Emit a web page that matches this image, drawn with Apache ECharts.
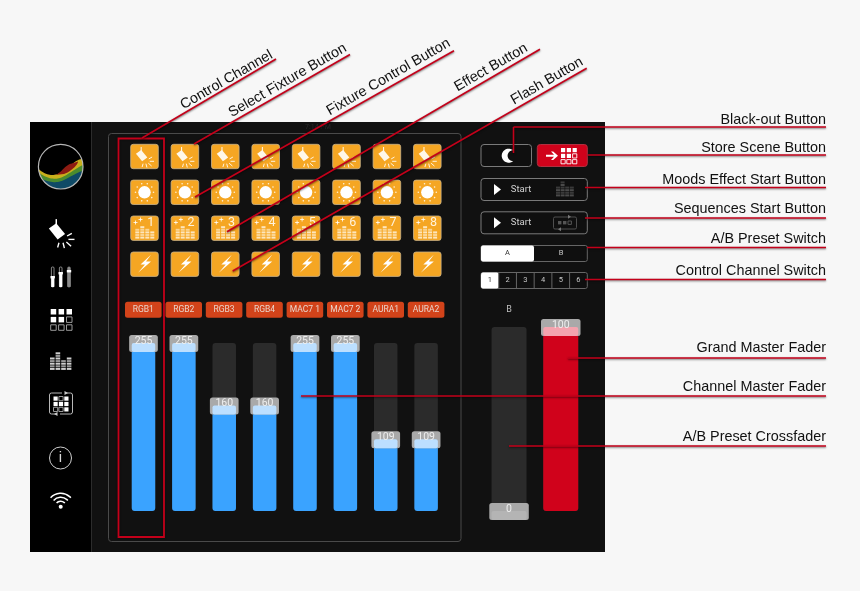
<!DOCTYPE html>
<html>
<head>
<meta charset="utf-8">
<title>Lighting console</title>
<style>
  html, body { margin: 0; padding: 0; background: #f7f7f7; }
  #main { width: 860px; height: 591px; }
</style>
<script src="https://cdn.jsdelivr.net/npm/echarts@6/dist/echarts.min.js"></script>
</head>
<body>
<div id="main"></div>
<script>
// fader data
var channels = ['A1', 'A2', 'A3', 'A4', 'A5', 'A6', 'A7', 'A8'];
var channelValues = [255, 255, 160, 160, 255, 255, 109, 109];
var channelNames = ['RGB1', 'RGB2', 'RGB3', 'RGB4', 'MAC7 1', 'MAC7 2', 'AURA1', 'AURA2'];
var masterCategories = ['A', 'Master'];
var masterValues = [0, 100];
// text of the callouts
var slantedLabels = ['Control Channel', 'Select Fixture Button', 'Fixture Control Button', 'Effect Button', 'Flash Button'];
var sideLabels = ['Black-out Button', 'Store Scene Button', 'Moods Effect Start Button', 'Sequences Start Button',
  'A/B Preset Switch', 'Control Channel Switch', 'Grand Master Fader', 'Channel Master Fader', 'A/B Preset Crossfader'];
var startLabel = 'Start';
var presetLabels = ['A', 'B'];
var switchLabels = ['1', '2', '3', '4', '5', '6'];

var RED = '#c4001a';
var FONT = '"Liberation Sans", Arial, sans-serif';
var UI_FONT = 'Roboto, "Liberation Sans", sans-serif';
var g = [];

function rect(x, y, w, h, fill, stroke, r, z, lw) {
  g.push({ type: 'rect', z: z || 1, silent: true, shape: { x: x, y: y, width: w, height: h, r: r || 0 },
    style: { fill: fill || 'none', stroke: stroke || 'none', lineWidth: lw || 1 } });
}
function line(x1, y1, x2, y2, color, lw, z) {
  g.push({ type: 'line', z: z || 3, silent: true, shape: { x1: x1, y1: y1, x2: x2, y2: y2 },
    style: { stroke: color, lineWidth: lw || 1 } });
}
function poly(points, fill, z) {
  g.push({ type: 'polygon', z: z || 3, silent: true, shape: { points: points }, style: { fill: fill } });
}
function circle(cx, cy, r, fill, stroke, lw, z) {
  g.push({ type: 'circle', z: z || 3, silent: true, shape: { cx: cx, cy: cy, r: r },
    style: { fill: fill || 'none', stroke: stroke || 'none', lineWidth: lw || 1 } });
}
function text(str, x, y, size, color, font, rot, z, align) {
  g.push({ type: 'text', z: z || 4, silent: true, x: x, y: y, rotation: rot || 0,
    style: { text: str, x: 0, y: 0, fill: color, font: size + 'px ' + (font || UI_FONT), align: align || 'center', verticalAlign: 'middle' } });
}

// graphic has no svg path type, so curves are sampled into polygons
function bez(p0, p1, p2, p3) {
  var out = [];
  for (var i = 0; i <= 16; i++) {
    var t = i / 16, u = 1 - t;
    out.push([
      u * u * u * p0[0] + 3 * u * u * t * p1[0] + 3 * u * t * t * p2[0] + t * t * t * p3[0],
      u * u * u * p0[1] + 3 * u * u * t * p1[1] + 3 * u * t * t * p2[1] + t * t * t * p3[1]
    ]);
  }
  return out;
}
function arcPts(cx, cy, r, a0, a1) {
  var out = [];
  for (var i = 0; i <= 40; i++) {
    var a = (a0 + (a1 - a0) * i / 40) * Math.PI / 180;
    out.push([cx + Math.cos(a) * r, cy + Math.sin(a) * r]);
  }
  return out;
}

// red callout line with its small shadow
function callLine(x1, y1, x2, y2) {
  g.push({ type: 'line', z: 20, silent: true, shape: { x1: x1, y1: y1, x2: x2, y2: y2 },
    style: { stroke: RED, lineWidth: 1.6, shadowBlur: 2, shadowColor: 'rgba(0,0,0,0.55)', shadowOffsetY: 1 } });
}

// panel
rect(30, 122, 575, 430, '#111111', null, 0, 0);
rect(30, 122, 61, 430, '#000000', null, 0, 0);
line(91.5, 122, 91.5, 552, '#2c2c2c', 1, 1);
rect(108.5, 133.5, 352.5, 408, 'none', '#4a4a4a', 3, 1);
text('7:14 PM', 318, 127, 7, '#2a2a2a');

// --- sidebar ---
function drawLogo() {
  var cx = 60.7, cy = 166.7, r = 22.3;
  // each layer runs along its top curve, then back round the bottom of the circle
  function layer(curves, a0, a1, color) {
    var pts = [];
    curves.forEach(function (c) { pts = pts.concat(bez(c[0], c[1], c[2], c[3])); });
    poly(pts.concat(arcPts(cx, cy, r, a0, a1)), color, 3);
  }
  circle(cx, cy, r, '#000', null, 1, 2);
  layer([[[38.5, 169], [45, 175], [52, 176], [58, 174]], [[58, 174], [66, 171], [74, 160], [81.6, 159]]], -20, 174, '#c9b01c');
  poly(bez([55, 175], [62, 173], [64, 165], [72, 163.5]).concat([[78, 161.5]], bez([78, 161.5], [78, 165], [70, 172], [64, 174])), '#8d1b12', 3);
  layer([[[39.5, 173], [46, 178], [54, 180], [60, 178]], [[60, 178], [68, 175], [76, 168], [83, 165]]], -4, 164, '#4c8c2e');
  layer([[[42, 179], [50, 183], [58, 183], [64, 180]], [[64, 180], [72, 176], [78, 172], [82.6, 171]]], 11, 146, '#0f4a66');
  circle(cx, cy, r, 'none', '#b5b5b5', 1.2, 4);
}
drawLogo();

// spot fixture, used in the sidebar and on the orange buttons
function fixture(cx, cy, s, color) {
  line(cx - 3.5 * s, cy - 11 * s, cx - 3.5 * s, cy - 6 * s, color, 1.1 * s, 5);
  poly([[cx - 9 * s, cy - 4 * s], [cx - 3.5 * s, cy - 8 * s], [cx + 3 * s, cy], [cx - 2.5 * s, cy + 4 * s]], color, 5);
  var rays = [[4.5, 1.5, 8, -0.5], [5.5, 4, 10, 4], [4, 6, 7.5, 9], [1.5, 6.5, 2.5, 10.5], [-1.5, 6.5, -2.5, 10]];
  rays.forEach(function (r) {
    line(cx + r[0] * s, cy + r[1] * s, cx + r[2] * s, cy + r[3] * s, color, 1 * s, 5);
  });
}
fixture(61, 234, 1.35, '#ffffff');

// three sliders
[[52.7, 277, '#ffffff'], [60.7, 273, '#ffffff'], [69, 271, '#8a8a8a']].forEach(function (s) {
  var isWhite = s[2] === '#ffffff';
  rect(s[0] - 1.3, 267, 2.6, 20, isWhite ? '#000' : '#8a8a8a', isWhite ? '#bbb' : '#8a8a8a', 1, 2, 0.7);
  rect(s[0] - 1.5, s[1], 3, 287 - s[1], isWhite ? '#ffffff' : '#8a8a8a', null, 0, 3);
  rect(s[0] - 2.2, s[1] - 1, 4.4, 2.4, '#ffffff', null, 0, 3);
});

function cellGrid(x, y, size, step, filled, fillColor, edge) {
  for (var r = 0; r < 3; r++) {
    for (var c = 0; c < 3; c++) {
      var on = filled.indexOf(r * 3 + c) >= 0;
      rect(x + c * step, y + r * step, size, size, on ? fillColor : 'none', on ? null : edge, 0, 5, 0.9);
    }
  }
}
cellGrid(50.7, 309, 5.5, 7.9, [0, 1, 2, 3, 4], '#ffffff', '#aaaaaa');

// striped equalizer
function eqBars(x, bottom, w, step, heights, color, alt, z) {
  heights.forEach(function (h, i) {
    for (var k = 0; k < h; k++) {
      rect(x + i * step, bottom - (k + 1) * 2.6, w, 2, k % 2 ? alt : color, null, 0, z || 5);
    }
  });
}
eqBars(50, 370.5, 4.6, 5.6, [5, 7, 4, 5], '#d0d0d0', '#9a9a9a');

// sequence box
rect(49.5, 393, 23, 21, 'none', '#cccccc', 2, 5, 0.9);
rect(62, 390, 4, 5, '#000', null, 0, 5);
rect(56, 412, 4, 4, '#000', null, 0, 5);
poly([[64.5, 391], [64.5, 395], [68, 393]], '#ccc', 6);
poly([[57.5, 412], [57.5, 416], [54, 414]], '#ccc', 6);
cellGrid(53.5, 396.5, 4.2, 5.4, [0, 2, 3, 4, 5, 8], '#ffffff', '#aaaaaa');

// info and wifi
circle(60.5, 458, 11, 'none', '#cfcfcf', 1);
text('i', 60.5, 458, 15, '#d8d8d8', '"Liberation Sans", sans-serif');
circle(60.7, 506.7, 2, '#ffffff');
[5.5, 9.5, 13.5].forEach(function (r) {
  g.push({ type: 'arc', z: 3, silent: true,
    shape: { cx: 60.7, cy: 506.7, r: r, startAngle: -Math.PI * 0.77, endAngle: -Math.PI * 0.23, clockwise: true },
    style: { fill: 'none', stroke: '#ffffff', lineWidth: 1.5 } });
});

// --- orange buttons ---
function orangeButton(cx, cy) {
  rect(cx - 13.8, cy - 12.2, 27.6, 24.4, '#f5a623', '#c9b48c', 2.5, 2, 0.8);
}
channels.forEach(function (name, i) {
  var cx = 144.5 + 40.4 * i;

  orangeButton(cx, 156.5);
  fixture(cx, 157.5, 0.95, '#fff8ea');

  orangeButton(cx, 192.3);
  circle(cx, 192.3, 6.2, '#ffffff');
  for (var a = 0; a < 10; a++) {
    var ang = a * Math.PI / 5;
    circle(cx + Math.cos(ang) * 9, 192.3 + Math.sin(ang) * 9, 0.8, '#fff3dc');
  }

  orangeButton(cx, 228.2);
  eqBars(cx - 9.2, 239.2, 4, 5, [4, 5, 4, 3], '#fde6bd', '#fbd592');
  line(cx - 11, 222.5, cx - 7, 222.5, '#fff', 0.8, 5);
  line(cx - 9, 220.5, cx - 9, 224.5, '#fff', 0.8, 5);
  line(cx - 6, 219.5, cx - 2, 219.5, '#fff', 0.8, 5);
  line(cx - 4, 217.5, cx - 4, 221.5, '#fff', 0.8, 5);
  text(String(i + 1), cx + 6.2, 222.7, 12.5, '#fff3dc');

  orangeButton(cx, 264.2);
  poly([[cx + 6.5, 254.7], [cx - 4, 264.5], [cx + 0.5, 264.5], [cx - 6.5, 272.7], [cx + 6.5, 261.5], [cx + 1.5, 261.5]], '#ffffff');

  rect(125 + 40.4 * i, 301.8, 36.6, 16, '#d2431a', null, 2.5, 2);
  text(channelNames[i], 143.3 + 40.4 * i, 310, 8.5, '#e9d5cc');
});

// --- right column buttons ---
var BTN_FILL = '#0f0f0f';
rect(481, 144.5, 50.5, 22, BTN_FILL, '#7a7a7a', 3, 2);
poly(arcPts(508.7, 155.7, 7, 50, 310).concat(arcPts(513, 155.7, 5.4, 270, 90)), '#ffffff');

rect(537.3, 144.5, 50, 22, '#d0021b', '#b03040', 3, 2);
poly([[546, 154.7], [554, 154.7], [551, 151.5], [553.2, 151.5], [558, 155.7], [553.2, 160], [551, 160], [554, 156.7], [546, 156.7]], '#ffffff');
cellGrid(561, 148, 4.2, 5.8, [0, 1, 2, 3, 4], '#ffffff', '#ffffff');

rect(481, 178.5, 106.3, 22, BTN_FILL, '#7a7a7a', 3, 2);
poly([[494, 184], [494, 195], [501, 189.5]], '#ffffff');
text(startLabel, 521, 189.3, 9.5, '#d0d0d0');
eqBars(556, 197, 4, 4.6, [4, 6, 4, 4], '#4a4a4a', '#3a3a3a');

rect(481, 211.8, 106.3, 22, BTN_FILL, '#7a7a7a', 3, 2);
poly([[494, 217.3], [494, 228.3], [501, 222.8]], '#ffffff');
text(startLabel, 521, 222.6, 9.5, '#d0d0d0');
rect(553.5, 217, 23, 12, 'none', '#4f4f4f', 1.5, 5);
rect(558, 221, 3.4, 3.4, '#555', null, 0, 5);
rect(563, 221, 3.4, 3.4, '#555', null, 0, 5);
rect(568, 221, 3.4, 3.4, 'none', '#555', 0, 5);
poly([[568, 214.8], [568, 218.8], [571, 216.8]], '#777', 6);
poly([[561, 227.3], [561, 231.3], [558, 229.3]], '#777', 6);

rect(481, 245.5, 106.3, 16, BTN_FILL, '#666666', 2, 2);
rect(481, 245.5, 53, 16, '#ffffff', null, 2, 3);
text(presetLabels[0], 507.5, 253.5, 7.5, '#333333', UI_FONT, 0, 5);
text(presetLabels[1], 561, 253.5, 7.5, '#c8c8c8', UI_FONT, 0, 5);

rect(481, 272.5, 106.3, 16, BTN_FILL, '#666666', 2, 2);
switchLabels.forEach(function (s, i) {
  var cellX = 481 + i * 17.72;
  if (i === 0) {
    rect(cellX, 272.5, 17.7, 16, '#ffffff', null, 2, 3);
  } else {
    line(cellX, 272.5, cellX, 288.5, '#666666', 1, 3);
  }
  text(s, cellX + 8.86, 280.5, 7.5, i === 0 ? '#333333' : '#c8c8c8', UI_FONT, 0, 5);
});
text('B', 509, 309.5, 9, '#c0c0c0');

// --- callouts ---
rect(118.5, 138.5, 45.5, 398.5, 'none', RED, 0, 20, 1.8);
g[g.length - 1].style.shadowBlur = 2;
g[g.length - 1].style.shadowColor = 'rgba(0,0,0,0.5)';

callLine(142, 138, 276, 59);
callLine(194, 144, 350, 54.5);
callLine(195, 197, 454, 50.7);
callLine(227, 231.7, 540, 49.3);
callLine(232.7, 271, 586.7, 68.3);

var slant = Math.PI / 6;
var slantPos = [[226.5, 80], [287.5, 80.5], [388.5, 77], [491, 67.5], [547, 81]];
slantedLabels.forEach(function (s, i) {
  text(s, slantPos[i][0], slantPos[i][1], 14.4, '#111111', FONT, slant, 21);
});

callLine(513.5, 127, 826, 127);
callLine(513.5, 127, 513.5, 153);
callLine(588, 155, 826, 155);
callLine(585, 187.5, 826, 187.5);
callLine(585, 218, 826, 218);
callLine(587, 247.5, 826, 247.5);
callLine(585, 279.5, 826, 279.5);
callLine(568, 358, 826, 358);
callLine(301, 396, 826, 396);
callLine(509, 446, 826, 446);

// these all end flush with the right end of the lines
var sideY = [120, 148, 180, 209, 239, 271, 348, 387, 437];
sideLabels.forEach(function (s, i) {
  text(s, 826, sideY[i], 14.4, '#111111', FONT, 0, 21, 'right');
});

// fader knob, sits on the top of the bar
function knob(barW, knobW, lightColor) {
  return function (params, api) {
    var pt = api.coord([api.value(0), api.value(1)]);
    var val = api.value(1);
    return {
      type: 'group',
      children: [
        { type: 'rect', shape: { x: pt[0] - knobW / 2, y: pt[1] - 8, width: knobW, height: 17, r: 2.5 },
          style: { fill: '#a9a9a9' } },
        { type: 'rect', shape: { x: pt[0] - barW / 2, y: pt[1], width: barW, height: 9, r: 2 },
          style: { fill: val === 0 ? '#b4b4b4' : lightColor } },
        { type: 'text', style: { text: String(val), x: pt[0], y: pt[1] - 2, fill: '#eeeeee',
          font: '10.5px ' + UI_FONT, align: 'center', verticalAlign: 'middle' } }
      ]
    };
  };
}

function axisLabels() {
  return { color: '#bdbdbd', fontSize: 9, fontFamily: UI_FONT, margin: 12 };
}

var option = {
  backgroundColor: '#f7f7f7',
  animation: false,
  graphic: { elements: g },
  grid: [
    { left: 123.3, width: 323, top: 343, height: 168 },
    { left: 483.2, width: 103.4, top: 327, height: 184 }
  ],
  xAxis: [
    { gridIndex: 0, type: 'category', data: channels, axisLine: { show: false }, axisTick: { show: false }, axisLabel: axisLabels() },
    { gridIndex: 1, type: 'category', data: masterCategories, axisLine: { show: false }, axisTick: { show: false }, axisLabel: axisLabels() }
  ],
  yAxis: [
    { gridIndex: 0, type: 'value', min: 0, max: 255, show: false },
    { gridIndex: 1, type: 'value', min: 0, max: 100, show: false }
  ],
  series: [
    {
      type: 'bar', xAxisIndex: 0, yAxisIndex: 0, data: channelValues, barWidth: 23.5, z: 2,
      showBackground: true, backgroundStyle: { color: '#2b2b2b', borderRadius: 3 },
      itemStyle: { color: '#3aa3ff', borderRadius: 3 }
    },
    {
      type: 'custom', xAxisIndex: 0, yAxisIndex: 0, z: 3, clip: false,
      data: channelValues.map(function (v, i) { return [i, v]; }),
      encode: { x: 0, y: 1 }, renderItem: knob(23.5, 28.7, '#bcdfff')
    },
    {
      type: 'bar', xAxisIndex: 1, yAxisIndex: 1, data: masterValues, barWidth: 35, z: 2,
      showBackground: true, backgroundStyle: { color: '#2b2b2b', borderRadius: 3 },
      itemStyle: { color: '#d0021b', borderRadius: 3 }
    },
    {
      type: 'custom', xAxisIndex: 1, yAxisIndex: 1, z: 3, clip: false,
      data: masterValues.map(function (v, i) { return [i, v]; }),
      encode: { x: 0, y: 1 }, renderItem: knob(35, 39.5, '#f4a3ae')
    }
  ]
};

var chart = echarts.init(document.getElementById('main'));
chart.setOption(option);
</script>
</body>
</html>
